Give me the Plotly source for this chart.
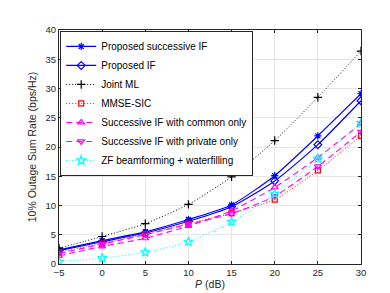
import plotly.graph_objects as go

P = [-5, 0, 5, 10, 15, 20, 25, 30]
proposed_successive_if = [2.4, 4.0, 5.5, 7.6, 10.1, 15.1, 21.9, 29.1]
proposed_if = [2.3, 3.8, 5.3, 7.3, 9.8, 14.2, 20.4, 27.9]
joint_ml = [2.7, 4.7, 6.9, 10.2, 14.9, 21.1, 28.5, 36.4]
mmse_sic = [2.0, 3.5, 5.1, 6.9, 8.7, 11.0, 16.0, 21.9]
succ_common_only = [1.4, 3.0, 4.4, 6.5, 9.1, 13.1, 18.2, 24.0]
succ_private_only = [1.8, 3.4, 5.0, 6.8, 8.6, 11.6, 16.7, 22.6]
zf_waterfilling = [0.4, 1.0, 2.0, 3.8, 7.2, 12.0, 18.0, 24.1]

series = [
    ("Proposed successive IF", proposed_successive_if, "#0000FF", "solid", "asterisk-open", 6, 1.2),
    ("Proposed IF", proposed_if, "#0000FF", "solid", "diamond-open", 6, 1.2),
    ("Joint ML", joint_ml, "#000000", "1px,2px", "cross-thin-open", 6, 1.0),
    ("MMSE-SIC", mmse_sic, "#FF0000", "1px,2px", "square-open", 5, 1.0),
    ("Successive IF with common only", succ_common_only, "#FF00FF", "6px,4px", "triangle-up-open", 6, 1.1),
    ("Successive IF with private only", succ_private_only, "#FF00FF", "6px,4px", "triangle-down-open", 6, 1.1),
    ("ZF beamforming + waterfilling", zf_waterfilling, "#00FFFF", "1px,2px", "star-open", 7, 1.0),
]

fig = go.Figure()
for name, vals, color, dash, sym, msize, lw in series:
    fig.add_trace(go.Scatter(
        x=P, y=vals, name=name, mode="lines+markers",
        line=dict(color=color, dash=dash, width=lw, shape="spline", smoothing=0.6),
        marker=dict(symbol=sym, size=msize, color=color, line=dict(color=color, width=1.2)),
    ))

FONT = "Liberation Sans, Arial, sans-serif"
axis_common = dict(
    showline=True, linecolor="#262626", linewidth=1, mirror="ticks",
    ticks="inside", ticklen=3, tickcolor="#262626",
    showgrid=True, gridcolor="#E6E6E6", gridwidth=1, zeroline=False,
    tickfont=dict(family=FONT, size=9.5, color="#262626"),
)

fig.update_xaxes(range=[-5, 30], dtick=5, tick0=-5,
                 title=dict(text="<i>P</i> (dB)", standoff=3,
                            font=dict(family=FONT, size=10.5, color="#262626")),
                 **axis_common)
fig.update_yaxes(range=[0, 40], dtick=5,
                 title=dict(text="10% Outage Sum Rate (bps/Hz)", standoff=6,
                            font=dict(family=FONT, size=10.5, color="#262626")),
                 **axis_common)

fig.update_layout(
    width=390, height=293,
    margin=dict(l=51, r=37, t=22, b=31),
    paper_bgcolor="white", plot_bgcolor="white",
    font=dict(family=FONT, size=10, color="#000000"),
    legend=dict(x=0.004, y=0.996, xanchor="left", yanchor="top",
                bgcolor="white", bordercolor="#262626", borderwidth=1,
                font=dict(size=10), itemwidth=30, tracegroupgap=0),
)

fig.write_html("out.html")
